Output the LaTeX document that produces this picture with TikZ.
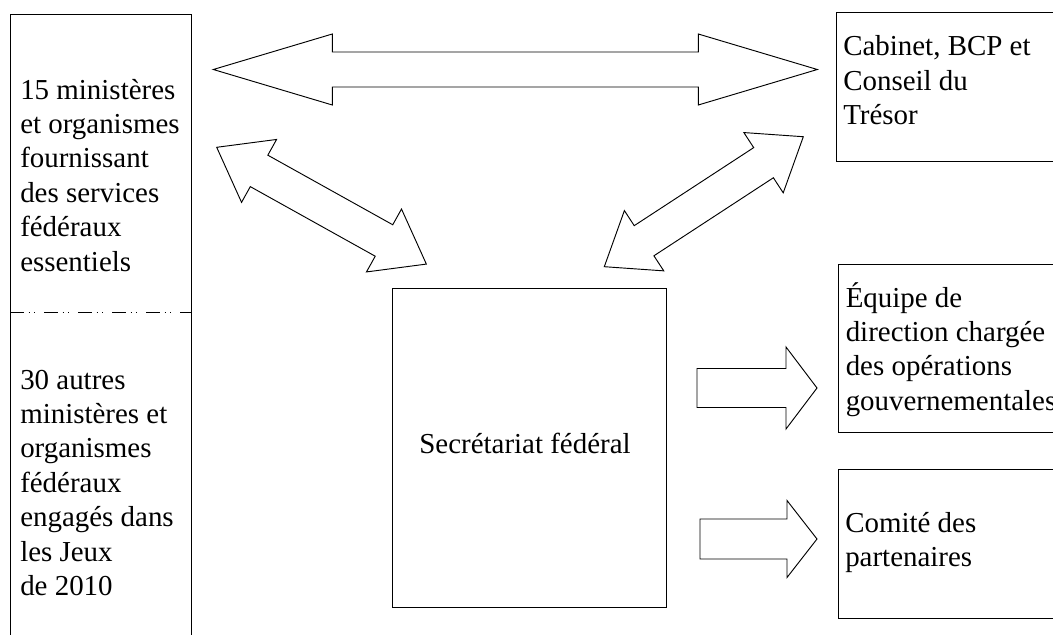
\documentclass[tikz,border=0pt]{standalone}
\usepackage{fontspec}
\setmainfont{Liberation Serif}
\tikzset{
  box/.style={draw=black, line width=0.7pt, inner sep=0pt, anchor=north west},
  blockarrow/.style={draw=black, line width=0.7pt, fill=white, line join=miter},
  txt/.style={font=\fontsize{21.7pt}{25.8pt}\selectfont, inner sep=0pt, anchor=base west},
  sepline/.style={draw=black, line width=0.7pt, dash pattern=on 10.5pt off 3.5pt on 1pt off 3pt on 1pt off 6.5pt},
  pics/dblarrow/.style args={#1/#2/#3/#4}{code={
    \draw[blockarrow] (0,0) -- (#2,#4) -- (#2,#3) -- ({#1-#2},#3) -- ({#1-#2},#4) -- (#1,0)
      -- ({#1-#2},-#4) -- ({#1-#2},-#3) -- (#2,-#3) -- (#2,-#4) -- cycle;}},
  pics/sglarrow/.style args={#1/#2/#3/#4}{code={
    \draw[blockarrow] (0,-#3) -- ({#1-#2},-#3) -- ({#1-#2},-#4) -- (#1,0)
      -- ({#1-#2},#4) -- ({#1-#2},#3) -- (0,#3) -- cycle;}},
}
\begin{document}
\begin{tikzpicture}[x=0.75pt, y=-0.75pt]
\useasboundingbox (0,0) rectangle (1053,635);
\clip (0,0) rectangle (1053,635);

% boxes
\node[box, minimum width=135.5pt, minimum height=484.5pt] (left) at (10,14) {};
\coordinate (sepL) at (10,312.3);
\coordinate (sepR) at (190.7,312.3);
\draw[sepline] (sepL) -- (sepR);
\node[box, minimum width=205.5pt, minimum height=239.25pt] (sec) at (392,288) {};
\node[box, minimum width=180pt, minimum height=111.75pt] (cab) at (835.5,12) {};
\node[box, minimum width=180pt, minimum height=126pt] (equ) at (838,264) {};
\node[box, minimum width=180pt, minimum height=111.75pt] (com) at (838,469) {};

% texts
\node[txt] (g1) at (20,99) {\vtop{\hbox{15 ministères}\hbox{et organismes}\hbox{fournissant}\hbox{des services}\hbox{fédéraux}\hbox{essentiels}}};
\node[txt] (g2) at (20,389) {\vtop{\hbox{30 autres}\hbox{ministères et}\hbox{organismes}\hbox{fédéraux}\hbox{engagés dans}\hbox{les Jeux}\hbox{de 2010}}};
\node[txt, anchor=base] (sectxt) at (525,453) {Secrétariat fédéral};
\node[txt] (cabtxt) at (843,56) {\vtop{\hbox{Cabinet, BCP et}\hbox{Conseil du}\hbox{Trésor}}};
\node[txt] (equtxt) at (845.5,307) {\vtop{\hbox{Équipe de}\hbox{direction chargée}\hbox{des opérations}\hbox{gouvernementales}}};
\node[txt] (comtxt) at (845,532) {\vtop{\hbox{Comité des}\hbox{partenaires}}};

% block arrows
\pic at (213.3,69.5) {dblarrow=604/119/17.5/35.5};
\pic[rotate=-29.12] at (216.7,147.3) {dblarrow=240/48.5/18/36};
\pic[rotate=33.15] at (604.3,266.7) {dblarrow=237.7/47.5/18/36};
\pic at (697,388) {sglarrow=120/31/19.5/41};
\pic at (700,539) {sglarrow=117/30/20/38.5};
\end{tikzpicture}
\end{document}
